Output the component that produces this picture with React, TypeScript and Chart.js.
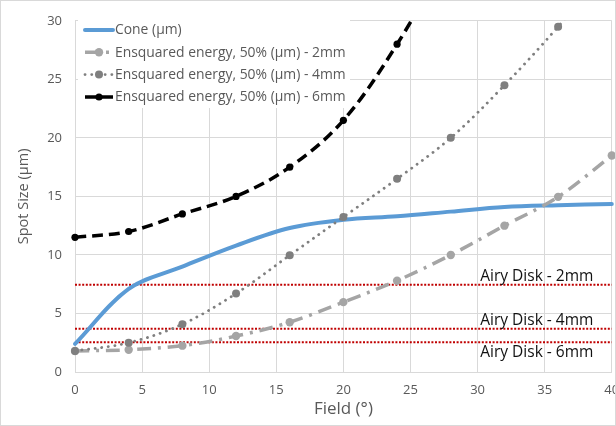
import { useEffect, useRef } from "react";
import { Chart, registerables } from "chart.js";

Chart.register(...registerables);

// ---- data ----
const fieldDeg = [0, 4, 8, 12, 16, 20, 24, 28, 32, 36, 40];
const coneUm = [2.4, 7.1, 9.0, 10.8, 12.3, 13.0, 13.3, 13.7, 14.1, 14.25, 14.35];
const ee2mm = [1.8, 1.9, 2.25, 3.07, 4.25, 5.97, 7.8, 10.0, 12.5, 14.96, 18.5];
const ee4mm = [1.8, 2.5, 4.08, 6.7, 9.97, 13.24, 16.5, 20.0, 24.5, 29.5, 35.0];
const field6mm = [0, 4, 8, 12, 16, 20, 24, 28];
const ee6mm = [11.5, 12.0, 13.5, 15.0, 17.5, 21.5, 28.0, 36.0];
const airyValues = [7.45, 3.7, 2.55];
const airyLabels = ["Airy Disk - 2mm", "Airy Disk - 4mm", "Airy Disk - 6mm"];
const airyRange = [0, 40];
const seriesLabels = [
  "Cone (µm)",
  "Ensquared energy, 50% (µm) - 2mm",
  "Ensquared energy, 50% (µm) - 4mm",
  "Ensquared energy, 50% (µm) - 6mm",
];
const xTitle = "Field (°)";
const yTitle = "Spot Size (µm)";

const FONT = "'Open Sans', 'DejaVu Sans', sans-serif";
const GRAY_TEXT = "#595959";

const zip = (xs: number[], ys: number[]) => ys.map((y, i) => ({ x: xs[i], y }));

const styles = [
  { color: "#5B9BD5", width: 4, dash: [] as number[], cap: "round", r: 0 },
  { color: "#A5A5A5", width: 3.5, dash: [14, 7, 3, 7], cap: "butt", r: 4.2 },
  { color: "#7F7F7F", width: 2.8, dash: [0.1, 6.6], cap: "round", r: 4 },
  { color: "#000000", width: 3.5, dash: [11, 6], cap: "butt", r: 3.6 },
];

const chartPlugin = {
  id: "decor",
  beforeDraw(chart: any) {
    const ctx = chart.ctx;
    ctx.save();
    ctx.fillStyle = "#ffffff";
    ctx.fillRect(0, 0, chart.width, chart.height);
    ctx.restore();
  },
  afterDatasetsDraw(chart: any) {
    const ctx = chart.ctx;
    const xs = chart.scales.x;
    const ys = chart.scales.y;
    ctx.save();
    // Airy disk labels
    ctx.fillStyle = "#111111";
    ctx.font = `15.5px ${FONT}`;
    ctx.textAlign = "left";
    const lx = xs.getPixelForValue(30.2);
    airyValues.forEach((v, i) => {
      const py = ys.getPixelForValue(v);
      if (i < 2) {
        ctx.textBaseline = "bottom";
        ctx.fillText(airyLabels[i], lx, py);
      } else {
        ctx.textBaseline = "top";
        ctx.fillText(airyLabels[i], lx, py + 2.5);
      }
    });
    // legend
    const left = 78, top = 18, w = 272, h = 90;
    ctx.fillStyle = "#ffffff";
    ctx.fillRect(left, top, w, h);
    ctx.font = `13.9px ${FONT}`;
    ctx.textBaseline = "middle";
    const rowY = [30, 52.3, 74.6, 97];
    seriesLabels.forEach((lab, i) => {
      const s = styles[i];
      const y = rowY[i];
      ctx.save();
      ctx.strokeStyle = s.color;
      ctx.lineWidth = s.width;
      ctx.lineCap = s.cap;
      ctx.setLineDash(s.dash);
      ctx.beginPath();
      ctx.moveTo(85, y);
      ctx.lineTo(113, y);
      ctx.stroke();
      ctx.restore();
      if (s.r > 0) {
        ctx.fillStyle = s.color;
        ctx.beginPath();
        ctx.arc(99, y, s.r, 0, Math.PI * 2);
        ctx.fill();
      }
      ctx.fillStyle = GRAY_TEXT;
      ctx.fillText(lab, 115, y + 0.5);
    });
    ctx.restore();
  },
  afterDraw(chart: any) {
    const ctx = chart.ctx;
    ctx.save();
    ctx.strokeStyle = "#D9D9D9";
    ctx.lineWidth = 1;
    ctx.strokeRect(0.5, 0.5, chart.width - 1, chart.height - 1);
    ctx.restore();
  },
};

export default function App() {
  const ref = useRef<HTMLCanvasElement>(null);
  useEffect(() => {
    const clipTop0 = { left: 8, right: 8, bottom: 8, top: 0 };
    const mk = (i: number, data: any[], order: number, extra: any = {}) => ({
      label: seriesLabels[i],
      data,
      borderColor: styles[i].color,
      backgroundColor: styles[i].color,
      borderWidth: styles[i].width,
      borderDash: styles[i].dash,
      borderCapStyle: styles[i].cap,
      pointRadius: styles[i].r,
      pointBorderWidth: 0,
      pointBackgroundColor: styles[i].color,
      tension: 0.35,
      fill: false,
      order,
      clip: clipTop0,
      ...extra,
    });
    const airySets = airyValues.map((v, i) => ({
      label: airyLabels[i],
      data: airyRange.map((x) => ({ x, y: v })),
      borderColor: "#C00000",
      borderWidth: 2,
      borderDash: [2, 1.6],
      pointRadius: 0,
      tension: 0,
      order: 10,
      clip: 0,
    }));
    const chart = new Chart(ref.current!, {
      type: "line",
      data: {
        datasets: [
          mk(3, zip(field6mm, ee6mm), 1),
          mk(2, zip(fieldDeg, ee4mm), 2),
          mk(1, zip(fieldDeg, ee2mm), 3),
          mk(0, zip(fieldDeg, coneUm), 4),
          ...airySets,
        ] as any,
      },
      options: {
        responsive: false,
        animation: false,
        devicePixelRatio: 1,
        layout: { padding: { left: 0, top: 17, right: 4, bottom: 0 } },
        elements: { line: { capBezierPoints: false } as any },
        plugins: {
          legend: { display: false },
          tooltip: { enabled: false },
        },
        scales: {
          x: {
            type: "linear",
            min: 0,
            max: 40,
            ticks: {
              stepSize: 5,
              color: GRAY_TEXT,
              font: { family: FONT, size: 13 },
              padding: 10,
            },
            grid: { color: "#D9D9D9", lineWidth: 1, drawTicks: false },
            border: { color: "#D9D9D9" },
            title: {
              display: true,
              text: xTitle,
              color: GRAY_TEXT,
              font: { family: FONT, size: 17 },
              padding: { top: 0, bottom: 7 },
            },
            afterFit: (s: any) => {
              s.height = 54;
              s.paddingRight = 0;
              s.paddingLeft = 0;
            },
          },
          y: {
            type: "linear",
            min: 0,
            max: 30,
            ticks: {
              stepSize: 5,
              color: GRAY_TEXT,
              font: { family: FONT, size: 13 },
              padding: 13,
            },
            grid: { color: "#D9D9D9", lineWidth: 1, drawTicks: false },
            border: { color: "#D9D9D9" },
            title: {
              display: true,
              text: yTitle,
              color: GRAY_TEXT,
              font: { family: FONT, size: 14.5 },
              padding: { top: 15.5, bottom: 0 },
            },
            afterFit: (s: any) => {
              s.width = 75;
            },
          },
        },
      },
      plugins: [chartPlugin],
    });
    return () => chart.destroy();
  }, []);
  return (
    <div style={{ position: "fixed", left: 0, top: 0, width: 616, height: 426, background: "#fff" }}>
      <canvas ref={ref} width={616} height={426} style={{ display: "block" }} />
    </div>
  );
}
